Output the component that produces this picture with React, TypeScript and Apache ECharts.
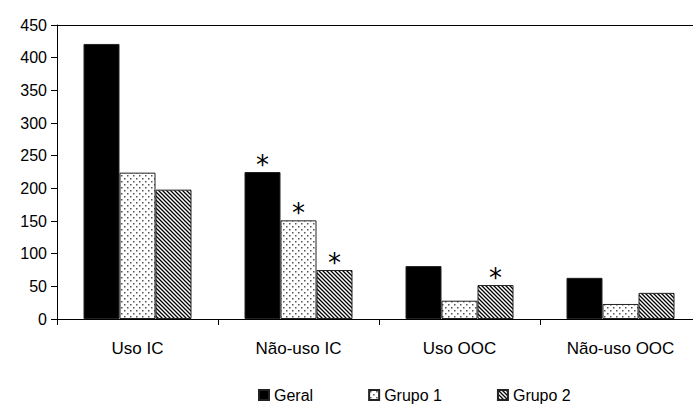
import React, { useEffect, useRef } from "react";
import * as echarts from "echarts";

const categories = ["Uso IC", "Não-uso IC", "Uso OOC", "Não-uso OOC"];
const seriesNames = ["Geral", "Grupo 1", "Grupo 2"];
const geral = [421, 225, 81, 63];
const grupo1 = [224, 151, 28, 23];
const grupo2 = [198, 75, 52, 40];
const geralSig = [false, true, false, false];
const grupo1Sig = [false, true, false, false];
const grupo2Sig = [false, true, true, false];
const yTicks = [0, 50, 100, 150, 200, 250, 300, 350, 400, 450];

const FONT = "'Liberation Sans', Arial, sans-serif";

function dotPattern(): HTMLCanvasElement {
  const c = document.createElement("canvas");
  c.width = 6;
  c.height = 6;
  const ctx = c.getContext("2d")!;
  ctx.fillStyle = "#ffffff";
  ctx.fillRect(0, 0, 6, 6);
  ctx.fillStyle = "#555555";
  ctx.fillRect(1, 1, 1.5, 1.5);
  ctx.fillRect(4, 4, 1.5, 1.5);
  return c;
}

function hatchPattern(): HTMLCanvasElement {
  const s = 4;
  const c = document.createElement("canvas");
  c.width = s;
  c.height = s;
  const ctx = c.getContext("2d")!;
  ctx.fillStyle = "#ffffff";
  ctx.fillRect(0, 0, s, s);
  ctx.strokeStyle = "#000000";
  ctx.lineWidth = 1.3;
  ctx.beginPath();
  ctx.moveTo(-1, -1);
  ctx.lineTo(s + 1, s + 1);
  ctx.moveTo(-1, s - 1);
  ctx.lineTo(1, s + 1);
  ctx.moveTo(s - 1, -1);
  ctx.lineTo(s + 1, 1);
  ctx.stroke();
  return c;
}

function buildData(values: number[], sig: boolean[]) {
  return values.map((v, i) =>
    sig[i] ? { value: v, label: { show: true } } : { value: v }
  );
}

export default function App() {
  const ref = useRef<HTMLDivElement>(null);
  useEffect(() => {
    if (!ref.current) return;
    const chart = echarts.init(ref.current, undefined, { renderer: "svg" });
    const starLabel = {
      show: false,
      position: "top" as const,
      formatter: "*",
      fontSize: 26,
      fontFamily: "'DejaVu Sans', sans-serif",
      color: "#000",
      distance: -6,
    };
    const fills = [
      "#000000",
      { image: dotPattern(), repeat: "repeat" },
      { image: hatchPattern(), repeat: "repeat" },
    ];
    const vals = [geral, grupo1, grupo2];
    const sigs = [geralSig, grupo1Sig, grupo2Sig];
    chart.setOption({
      animation: false,
      textStyle: { fontFamily: FONT },
      grid: {
        left: 57,
        top: 25,
        width: 644,
        height: 294,
        show: false,
        outerBoundsMode: "none",
      },
      legend: {
        bottom: 2,
        left: 253,
        itemWidth: 10,
        itemHeight: 10,
        itemGap: 55,
        textStyle: { fontFamily: FONT, fontSize: 16, color: "#000" },
        data: seriesNames,
        icon: "rect",
      },
      xAxis: [
        {
          type: "category",
          data: categories,
          axisLine: { show: true, lineStyle: { color: "#000", width: 1 } },
          axisTick: { show: true, length: 6, lineStyle: { color: "#000" } },
          axisLabel: { color: "#000", fontSize: 17, fontFamily: FONT, margin: 21 },
        },
        {
          type: "category",
          position: "top",
          data: categories,
          axisLine: { show: true, lineStyle: { color: "#000", width: 1 } },
          axisTick: { show: false },
          axisLabel: { show: false },
        },
      ],
      yAxis: {
        type: "value",
        min: yTicks[0],
        max: yTicks[yTicks.length - 1],
        interval: 50,
        splitLine: { show: false },
        axisLine: { show: true, lineStyle: { color: "#000", width: 1 } },
        axisTick: { show: true, length: 6, lineStyle: { color: "#000" } },
        axisLabel: { color: "#000", fontSize: 16, fontFamily: FONT, margin: 10 },
      },
      series: seriesNames.map((name, k) => ({
        name,
        type: "bar",
        xAxisIndex: 0,
        barWidth: 36,
        barGap: "0%",
        data: buildData(vals[k], sigs[k]),
        itemStyle: { color: fills[k], borderColor: "#222", borderWidth: 1 },
        label: starLabel,
      })),
    });
    return () => chart.dispose();
  }, []);
  return (
    <div
      ref={ref}
      style={{ position: "fixed", left: 0, top: 0, width: 693, height: 410, background: "#fff" }}
    />
  );
}
